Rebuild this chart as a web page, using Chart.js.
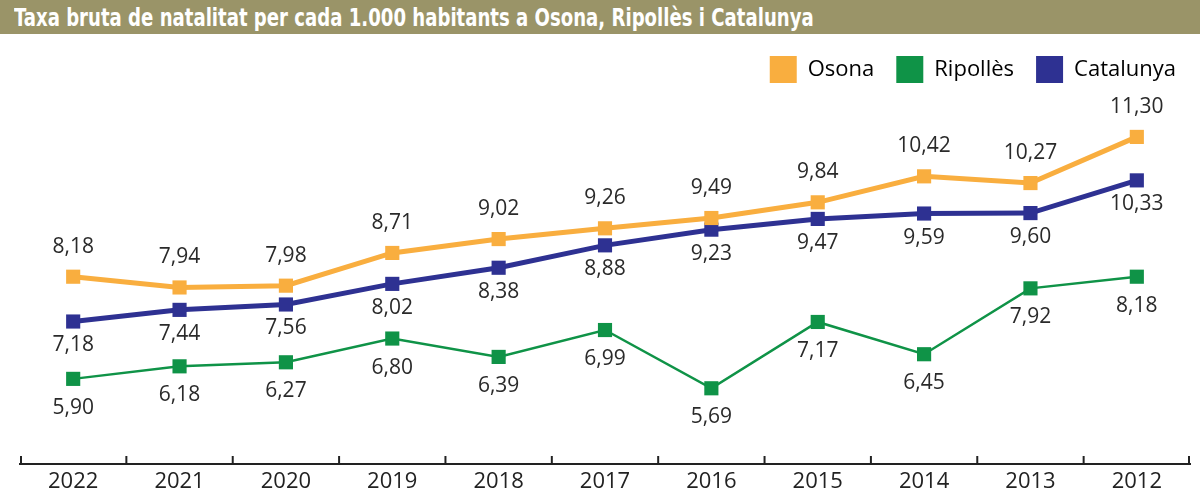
<!DOCTYPE html>
<html>
<head>
<meta charset="utf-8">
<script src="https://cdn.jsdelivr.net/npm/chart.js@4.4.1/dist/chart.umd.min.js"></script>
<style>
  html, body { margin: 0; padding: 0; background: #ffffff; }
  #title {
    width: 1200px; height: 34px; background: #9a9468; color: #ffffff;
    font-family: "Liberation Sans Narrow", "DejaVu Sans Condensed", sans-serif;
    font-weight: bold; font-size: 25px; line-height: 35px; padding-left: 14px;
    box-sizing: border-box; white-space: nowrap; overflow: hidden;
  }
  #title span { display: inline-block; transform: scaleX(0.805); transform-origin: left center; }
  #wrap { position: relative; width: 1200px; height: 459px; }
</style>
</head>
<body>
<div id="title"><span>Taxa bruta de natalitat per cada 1.000 habitants a Osona, Ripollès i Catalunya</span></div>
<div id="wrap"><canvas id="c"></canvas></div>
<script>
const years = ['2022','2021','2020','2019','2018','2017','2016','2015','2014','2013','2012'];
const osona = [8.18, 7.94, 7.98, 8.71, 9.02, 9.26, 9.49, 9.84, 10.42, 10.27, 11.30];
const ripolles = [5.90, 6.18, 6.27, 6.80, 6.39, 6.99, 5.69, 7.17, 6.45, 7.92, 8.18];
const catalunya = [7.18, 7.44, 7.56, 8.02, 8.38, 8.88, 9.23, 9.47, 9.59, 9.60, 10.33];
const seriesNames = ['Osona', 'Ripollès', 'Catalunya'];
const seriesColors = ['#f9ae3f', '#0f9347', '#2e3192'];
const labelOffsets = [-30, 29, 24];

const FONT = '"Open Sans", "Noto Sans", sans-serif';

const valueLabels = {
  id: 'valueLabels',
  afterDatasetsDraw(chart) {
    const ctx = chart.ctx;
    ctx.save();
    ctx.font = '21px ' + FONT;
    ctx.fillStyle = '#2a2a2a';
    ctx.textAlign = 'center';
    ctx.textBaseline = 'middle';
    chart.data.datasets.forEach((ds, di) => {
      const meta = chart.getDatasetMeta(di);
      meta.data.forEach((pt, i) => {
        const txt = ds.data[i].toFixed(2).replace('.', ',');
        ctx.fillText(txt, pt.x, pt.y + labelOffsets[di]);
      });
    });
    ctx.restore();
  }
};

const innerTicks = {
  id: 'innerTicks',
  afterDraw(chart) {
    const xs = chart.scales.x;
    const ctx = chart.ctx;
    const step = xs.getPixelForValue(1) - xs.getPixelForValue(0);
    const y = chart.chartArea.bottom;
    ctx.save();
    ctx.strokeStyle = '#222';
    ctx.lineWidth = 2;
    for (let i = 0; i <= years.length; i++) {
      let x = xs.getPixelForValue(0) - step / 2 + i * step;
      x = Math.min(Math.max(x, chart.chartArea.left + 1), chart.chartArea.right - 1);
      ctx.beginPath();
      ctx.moveTo(x, y - 8);
      ctx.lineTo(x, y + 1);
      ctx.stroke();
    }
    ctx.restore();
  }
};

const seriesData = [osona, ripolles, catalunya];
const widths = [5, 2.5, 5];

new Chart(document.getElementById('c'), {
  type: 'line',
  data: {
    labels: years,
    datasets: seriesData.map((d, i) => ({
      label: seriesNames[i],
      data: d,
      borderColor: seriesColors[i],
      backgroundColor: seriesColors[i],
      borderWidth: widths[i],
      pointStyle: 'rect',
      pointRadius: 10,
      pointHoverRadius: 10,
      pointBackgroundColor: seriesColors[i],
      pointBorderColor: seriesColors[i],
      pointBorderWidth: 0,
      tension: 0,
      order: i === 1 ? 2 : 1
    }))
  },
  options: {
    responsive: true,
    maintainAspectRatio: false,
    animation: false,
    events: [],
    layout: { padding: { left: 20, right: 2, top: 0, bottom: 0 } },
    plugins: {
      title: { display: false },
      tooltip: { enabled: false },
      legend: {
        display: true,
        position: 'top',
        align: 'end',
        labels: {
          boxWidth: 27,
          boxHeight: 27,
          padding: 22,
          color: '#222',
          font: { family: FONT, size: 22 },
          generateLabels(chart) {
            return chart.data.datasets.map((ds, i) => ({
              text: ds.label,
              fillStyle: seriesColors[i],
              strokeStyle: seriesColors[i],
              lineWidth: 0,
              hidden: false,
              datasetIndex: i
            }));
          }
        }
      }
    },
    scales: {
      x: {
        offset: true,
        grid: { display: false, drawTicks: false, tickLength: 0 },
        border: { display: true, color: '#222', width: 2 },
        ticks: { color: '#222', font: { family: FONT, size: 22 }, padding: 5, maxRotation: 0 },
        afterFit(scale) { scale.height = 29; }
      },
      y: {
        display: false,
        min: 4,
        max: 12.28
      }
    }
  },
  plugins: [valueLabels, innerTicks]
});
</script>
</body>
</html>
